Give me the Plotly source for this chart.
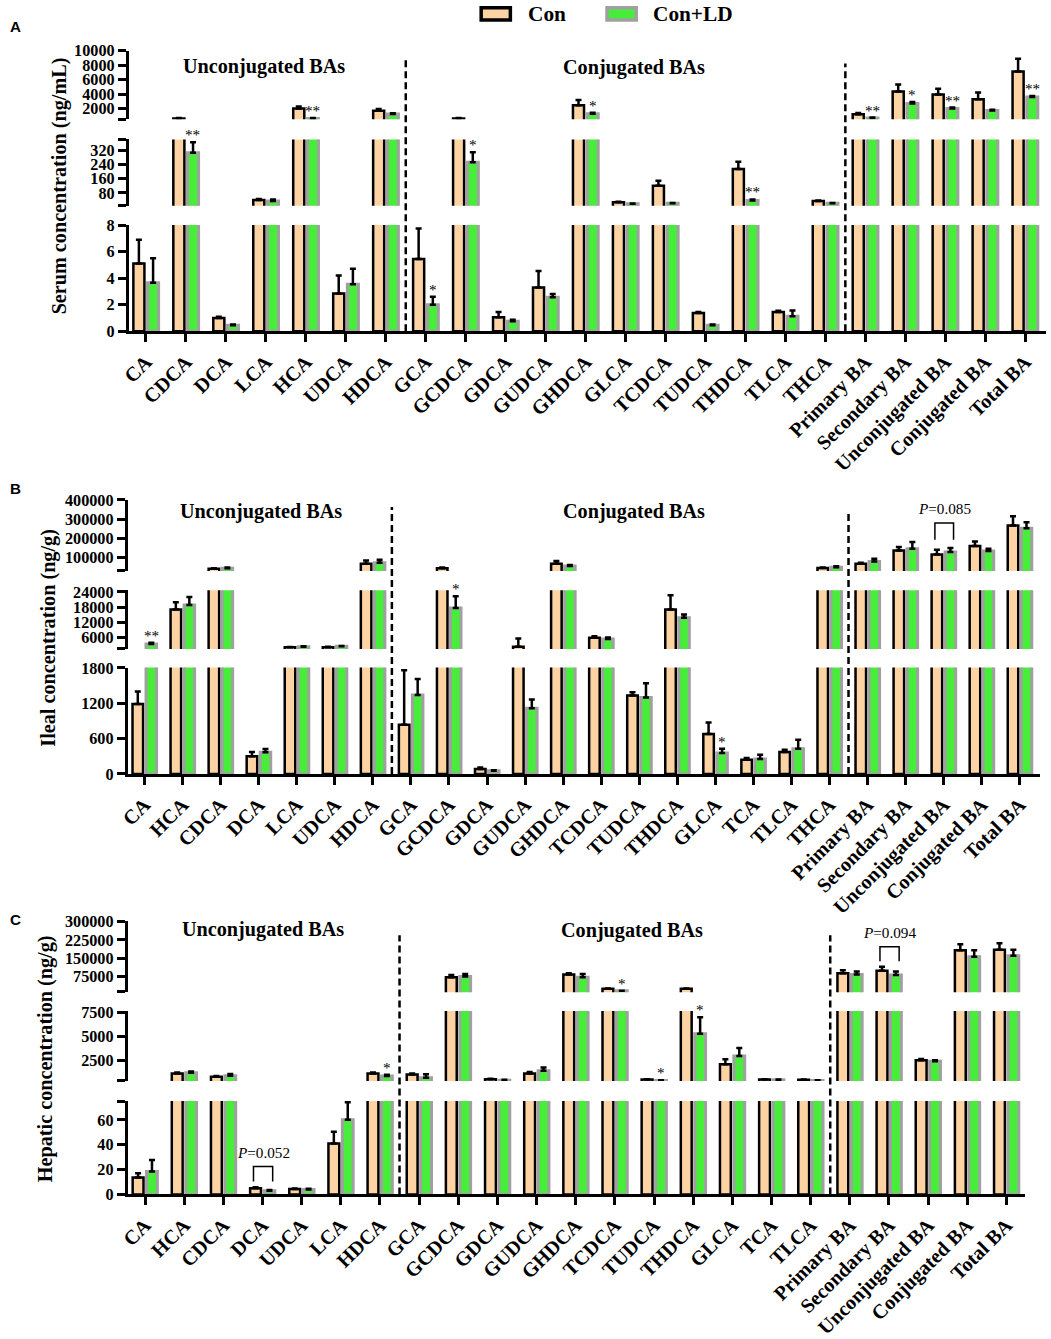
import plotly.graph_objects as go

W, H = 1051, 1339
# The captured picture shows the page inset/scaled slightly, so reference pixel
# positions are mapped into page coordinates with this empirical correction.
INSET = 8
VA, VB = 0.6, 0.9922   # residual vertical correction
FS = H / (H - 2 * INSET)  # font-size compensation

# ---------------- DATA ----------------
cats_A = ["CA", "CDCA", "DCA", "LCA", "HCA", "UDCA", "HDCA", "GCA", "GCDCA", "GDCA", "GUDCA",
          "GHDCA", "GLCA", "TCDCA", "TUDCA", "THDCA", "TLCA", "THCA", "Primary BA",
          "Secondary BA", "Unconjugated BA", "Conjugated BA", "Total BA"]
con_A = [5.1, 650, 1.0, 41, 2000, 2.85, 1700, 5.45, 650, 1.05, 3.3, 2450, 28, 121, 1.37, 214,
         1.45, 35, 1240, 4370, 3960, 3280, 7110]
con_A_err = [1.8, 60, 0.1, 6, 300, 1.35, 250, 2.3, 50, 0.4, 1.25, 750, 3, 28, 0.08, 41, 0.1, 3,
             140, 950, 780, 950, 1750]
ld_A = [3.65, 305, 0.45, 35, 630, 3.55, 1250, 2.0, 253, 0.75, 2.56, 1300, 19, 22, 0.45, 38,
        1.12, 22, 700, 2690, 2000, 1730, 3590]
ld_A_err = [1.85, 60, 0.05, 8, 60, 1.17, 120, 0.6, 56, 0.12, 0.24, 130, 2, 2, 0.05, 6, 0.45, 2,
            60, 230, 140, 120, 150]
sig_A = {"CDCA": "**", "HCA": "**", "GCA": "*", "GCDCA": "*", "GHDCA": "*", "THDCA": "**",
         "Primary BA": "**", "Secondary BA": "*", "Unconjugated BA": "**", "Total BA": "**"}

cats_B = ["CA", "HCA", "CDCA", "DCA", "LCA", "UDCA", "HDCA", "GCA", "GCDCA", "GDCA", "GUDCA",
          "GHDCA", "TCDCA", "TUDCA", "THDCA", "GLCA", "TCA", "TLCA", "THCA", "Primary BA",
          "Secondary BA", "Unconjugated BA", "Conjugated BA", "Total BA"]
con_B = [1188, 17060, 41000, 300, 2250, 2300, 67000, 834, 44000, 85, 2480, 67000, 6000, 1330,
         17060, 676, 242, 372, 45000, 67000, 136000, 115000, 159000, 266000]
con_B_err = [210, 2900, 3000, 72, 150, 150, 17000, 928, 3000, 25, 3250, 14000, 600, 56, 5640,
             197, 28, 39, 2000, 5000, 18000, 25000, 24000, 49000]
ld_B = [3500, 18800, 44000, 367, 2450, 2600, 72000, 1340, 17700, 55, 1115, 55000, 5500, 1296,
        13800, 355, 253, 428, 49000, 79000, 145000, 128000, 133000, 252000]
ld_B_err = [500, 3200, 3000, 55, 150, 150, 16000, 270, 4600, 8, 150, 5000, 600, 242, 1300, 73,
            73, 152, 5000, 14000, 35000, 21000, 12000, 31000]
sig_B = {"CA": "**", "GCDCA": "*", "GLCA": "*"}

cats_C = ["CA", "HCA", "CDCA", "DCA", "UDCA", "LCA", "HDCA", "GCA", "GCDCA", "GDCA", "GUDCA",
          "GHDCA", "TCDCA", "TUDCA", "THDCA", "GLCA", "TCA", "TLCA", "Primary BA",
          "Secondary BA", "Unconjugated BA", "Conjugated BA", "Total BA"]
con_C = [13.6, 1117, 775, 5.0, 4.3, 41, 1117, 1013, 71000, 537, 1117, 82000, 23000, 496, 23000,
         2090, 496, 460, 87000, 98000, 2504, 182000, 184000]
con_C_err = [3.4, 100, 80, 0.8, 0.5, 9.4, 100, 100, 9000, 40, 170, 5000, 1000, 30, 1000, 517,
             30, 30, 13000, 16000, 130, 25000, 27000]
ld_C = [18.4, 1190, 880, 3.0, 4.0, 60.2, 850, 670, 74000, 430, 1400, 71000, 14800, 392, 5257,
        2949, 460, 392, 82000, 80000, 2400, 155000, 159000]
ld_C_err = [9.4, 130, 200, 0.5, 0.6, 14, 150, 380, 10000, 30, 340, 13000, 800, 30, 1728, 827,
            30, 30, 13000, 15000, 100, 27000, 25000]
sig_C = {"HDCA": "*", "TCDCA": "*", "TUDCA": "*", "THDCA": "*"}

# P-value brackets: (category, text, bracket level, leg bottom)
pbr_B = [("Unconjugated BA", "P=0.085", 279000, 192000)]
pbr_C = [("DCA", "P=0.052", 22.4, 10.4), ("Secondary BA", "P=0.094", 196500, 136300)]

series_names = ["Con", "Con+LD"]
group_titles = ["Unconjugated BAs", "Conjugated BAs"]

# ---------------- STYLE / LAYOUT ----------------
SERIF = "Liberation Serif, Times New Roman, serif"
SANS = "Liberation Sans, Arial, sans-serif"
CON_FILL, CON_EDGE = "#FDD3A4", "#000000"
LD_FILL, LD_EDGE = "#46EE3A", "#A0A0A0"


def px2x(p):
    return (p - INSET) / (W - 2 * INSET)


def px2y(p):
    q = (p + VA) / VB
    return 1 - (q - INSET) / (H - 2 * INSET)


def fs(v):
    return round(v * FS, 1)


panels = [
    dict(letter="A", cats=cats_A, con=con_A, cerr=con_A_err, ld=ld_A, lerr=ld_A_err, sig=sig_A,
         pbr=[], ytitle="Serum concentration (ng/mL)", ytitle_pos=(58, 186),
         letter_pos=(14, 26), xpx=(127, 1038), xr=(-0.43, 22.52),
         divs=[(6.5, 58), (17.5, 63)], titles_pos=[(261, 66), (629, 67)],
         segs=[
             dict(px=(331.7, 225), r=(0, 8.02), tv=[0, 2, 4, 6, 8], tt=["0", "2", "4", "6", "8"]),
             dict(px=(205.7, 139.3), r=(9, 380), tv=[9.3, 80, 160, 240, 320, 379.7],
                  tt=["", "80", "160", "240", "320", ""]),
             dict(px=(119, 50), r=(532, 10010), tv=[545, 2000, 4000, 6000, 8000, 10000],
                  tt=["", "2000", "4000", "6000", "8000", "10000"]),
         ]),
    dict(letter="B", cats=cats_B, con=con_B, cerr=con_B_err, ld=ld_B, lerr=ld_B_err, sig=sig_B,
         pbr=pbr_B, ytitle="Ileal concentration (ng/g)", ytitle_pos=(47, 639),
         letter_pos=(14, 490), xpx=(126, 1032), xr=(-0.44, 23.53),
         divs=[(6.5, 508), (18.5, 513)], titles_pos=[(258, 513), (629, 513)],
         segs=[
             dict(px=(776, 669.3), r=(0, 1805), tv=[0, 600, 1200, 1800],
                  tt=["0", "600", "1200", "1800"]),
             dict(px=(650.7, 591.7), r=(1540, 24630), tv=[1600, 6000, 12000, 18000, 24000],
                  tt=["", "6000", "12000", "18000", "24000"]),
             dict(px=(572.3, 500.7), r=(29300, 401500),
                  tv=[31000, 100000, 200000, 300000, 400000],
                  tt=["", "100000", "200000", "300000", "400000"]),
         ]),
    dict(letter="C", cats=cats_C, con=con_C, cerr=con_C_err, ld=ld_C, lerr=ld_C_err, sig=sig_C,
         pbr=pbr_C, ytitle="Hepatic concentration (ng/g)", ytitle_pos=(45, 1062),
         letter_pos=(14, 922), xpx=(126, 1017), xr=(-0.44, 22.47),
         divs=[(6.5, 938), (17.5, 938)], titles_pos=[(260, 932), (627, 933)],
         segs=[
             dict(px=(1198, 1104.3), r=(0, 75.2), tv=[0, 20, 40, 60, 75],
                  tt=["0", "20", "40", "60", ""]),
             dict(px=(1084.3, 1014), r=(330, 7620), tv=[360, 2500, 5000, 7500],
                  tt=["", "2500", "5000", "7500"]),
             dict(px=(995, 924), r=(9500, 301000), tv=[10500, 75000, 150000, 225000, 300000],
                  tt=["", "75000", "150000", "225000", "300000"]),
         ]),
]

fig = go.Figure()
layout = dict(
    width=W, height=H, margin=dict(l=0, r=0, t=0, b=0),
    paper_bgcolor="white", plot_bgcolor="rgba(0,0,0,0)",
    barmode="group", bargap=0.29, bargroupgap=0.22, showlegend=False,
    font=dict(family=SERIF, color="black"),
)
annotations = []
shapes = []

for p, P in enumerate(panels):
    xid = "x" if p == 0 else f"x{p + 1}"
    xkey = "xaxis" if p == 0 else f"xaxis{p + 1}"
    yids = []
    for s, S in enumerate(P["segs"]):
        n = p * 3 + s + 1
        yid = "y" if n == 1 else f"y{n}"
        ykey = "yaxis" if n == 1 else f"yaxis{n}"
        yids.append(yid)
        lo = S["r"][0]
        layout[ykey] = dict(
            domain=[px2y(S["px"][0]), px2y(S["px"][1])], range=list(S["r"]), anchor=xid,
            tickmode="array", tickvals=S["tv"], ticktext=S["tt"],
            showline=True, linecolor="black", linewidth=3, ticks="outside", ticklen=8,
            tickwidth=2.5, tickcolor="black", showgrid=False, zeroline=False,
            tickfont=dict(family=SERIF, size=fs(16), weight="bold", color="black"),
        )
        for name, vals, errs, fill, edge, lw in [
            ("Con", P["con"], P["cerr"], CON_FILL, CON_EDGE, 2.5),
            ("Con+LD", P["ld"], P["lerr"], LD_FILL, LD_EDGE, 3),
        ]:
            # a bar that stays below this axis segment is not drawn in it
            seg_vals = [v if v >= lo else None for v in vals]
            fig.add_trace(go.Bar(
                x=P["cats"], y=seg_vals, name=name, xaxis=xid, yaxis=yid, showlegend=False,
                marker=dict(color=fill, line=dict(color=edge, width=lw)),
                error_y=dict(type="data", symmetric=False, array=errs,
                             arrayminus=[0] * len(errs), color="black", thickness=2.5,
                             width=3),
                hoverinfo="x+y+name",
            ))
    layout[xkey] = dict(
        domain=[px2x(P["xpx"][0]), px2x(P["xpx"][1])], range=list(P["xr"]), anchor=yids[0],
        type="category", tickmode="array", tickvals=P["cats"], ticktext=P["cats"],
        showline=True, linecolor="black", linewidth=3, ticks="outside", ticklen=8,
        tickwidth=2.5, tickcolor="black", showgrid=False, zeroline=False, tickangle=-45,
        tickfont=dict(family=SERIF, size=fs(20), weight="bold", color="black"),
    )

    def seg_of(v):
        for s, S in enumerate(P["segs"]):
            if S["r"][0] <= v <= S["r"][1]:
                return yids[s]
        return yids[-1]

    # significance marks over Con+LD bars
    for cat, txt in P["sig"].items():
        i = P["cats"].index(cat)
        top = P["ld"][i] + P["lerr"][i]
        annotations.append(dict(
            x=cat, y=top, xref=xid, yref=seg_of(top), text=txt, showarrow=False,
            xshift=7, yanchor="bottom", yshift=-3,
            font=dict(family=SERIF, size=fs(15), color="black"),
        ))
    # P-value brackets
    for cat, txt, lvl, leg in P["pbr"]:
        i = P["cats"].index(cat)
        yr = seg_of(lvl)
        shapes.append(dict(
            type="path", xref=xid, yref=yr,
            path=f"M {i - 0.23},{leg} L {i - 0.23},{lvl} L {i + 0.26},{lvl} L {i + 0.26},{leg}",
            line=dict(color="black", width=1.5),
        ))
        annotations.append(dict(
            x=i, y=lvl, xref=xid, yref=yr, text=txt.replace("P=", "<i>P</i>="),
            showarrow=False, yanchor="bottom", yshift=4, xshift=1,
            font=dict(family=SERIF, size=fs(15), color="black"),
        ))
    # dashed dividers
    for xd, ytop in P["divs"]:
        shapes.append(dict(
            type="line", xref=xid, yref="paper", x0=xd, x1=xd,
            y0=px2y(P["segs"][0]["px"][0]), y1=px2y(ytop),
            line=dict(color="black", width=2.5, dash="7px,4px"),
        ))
    # group titles
    for (tx, ty), t in zip(P["titles_pos"], group_titles):
        annotations.append(dict(
            x=px2x(tx), y=px2y(ty), xref="paper", yref="paper", text=t, showarrow=False,
            xanchor="center", yanchor="middle",
            font=dict(family=SERIF, size=fs(20), weight="bold", color="black"),
        ))
    # y title
    annotations.append(dict(
        x=px2x(P["ytitle_pos"][0]), y=px2y(P["ytitle_pos"][1]), xref="paper", yref="paper",
        text=P["ytitle"], showarrow=False, textangle=-90, xanchor="center", yanchor="middle",
        font=dict(family=SERIF, size=fs(20), weight="bold", color="black"),
    ))
    # panel letter
    annotations.append(dict(
        x=px2x(P["letter_pos"][0]), y=px2y(P["letter_pos"][1]), xref="paper", yref="paper",
        text=P["letter"], showarrow=False, xanchor="center", yanchor="middle",
        font=dict(family=SANS, size=fs(15), weight="bold", color="black"),
    ))

# legend (drawn manually)
for name, fill, edge, bx, tx in [("Con", CON_FILL, CON_EDGE, 477, 522),
                                 ("Con+LD", LD_FILL, LD_EDGE, 602, 646)]:
    shapes.append(dict(type="rect", xref="paper", yref="paper",
                       x0=px2x(bx), x1=px2x(bx + 29), y0=px2y(19.5), y1=px2y(7),
                       fillcolor=fill, line=dict(color=edge, width=3.5)))
    annotations.append(dict(
        x=px2x(tx), y=px2y(13.5), xref="paper", yref="paper", text=name, showarrow=False,
        xanchor="left", yanchor="middle",
        font=dict(family=SERIF, size=fs(21), weight="bold", color="black"),
    ))

layout["annotations"] = annotations
layout["shapes"] = shapes
fig.update_layout(**layout)

# Make the figure sit exactly in the browser window (no body margin, no scrollbars).
page_fit = (
    "try{var d=document;d.documentElement.style.margin='0';d.documentElement.style.padding='0';"
    "d.documentElement.style.overflow='hidden';d.body.style.margin='0';d.body.style.padding='0';"
    "d.body.style.overflow='hidden';var g=d.getElementById('{plot_id}');"
    "g.style.position='absolute';g.style.left='0px';g.style.top='0px';}catch(e){}"
)
fig.write_html("out.html", post_script=page_fit, config={"displayModeBar": False})
